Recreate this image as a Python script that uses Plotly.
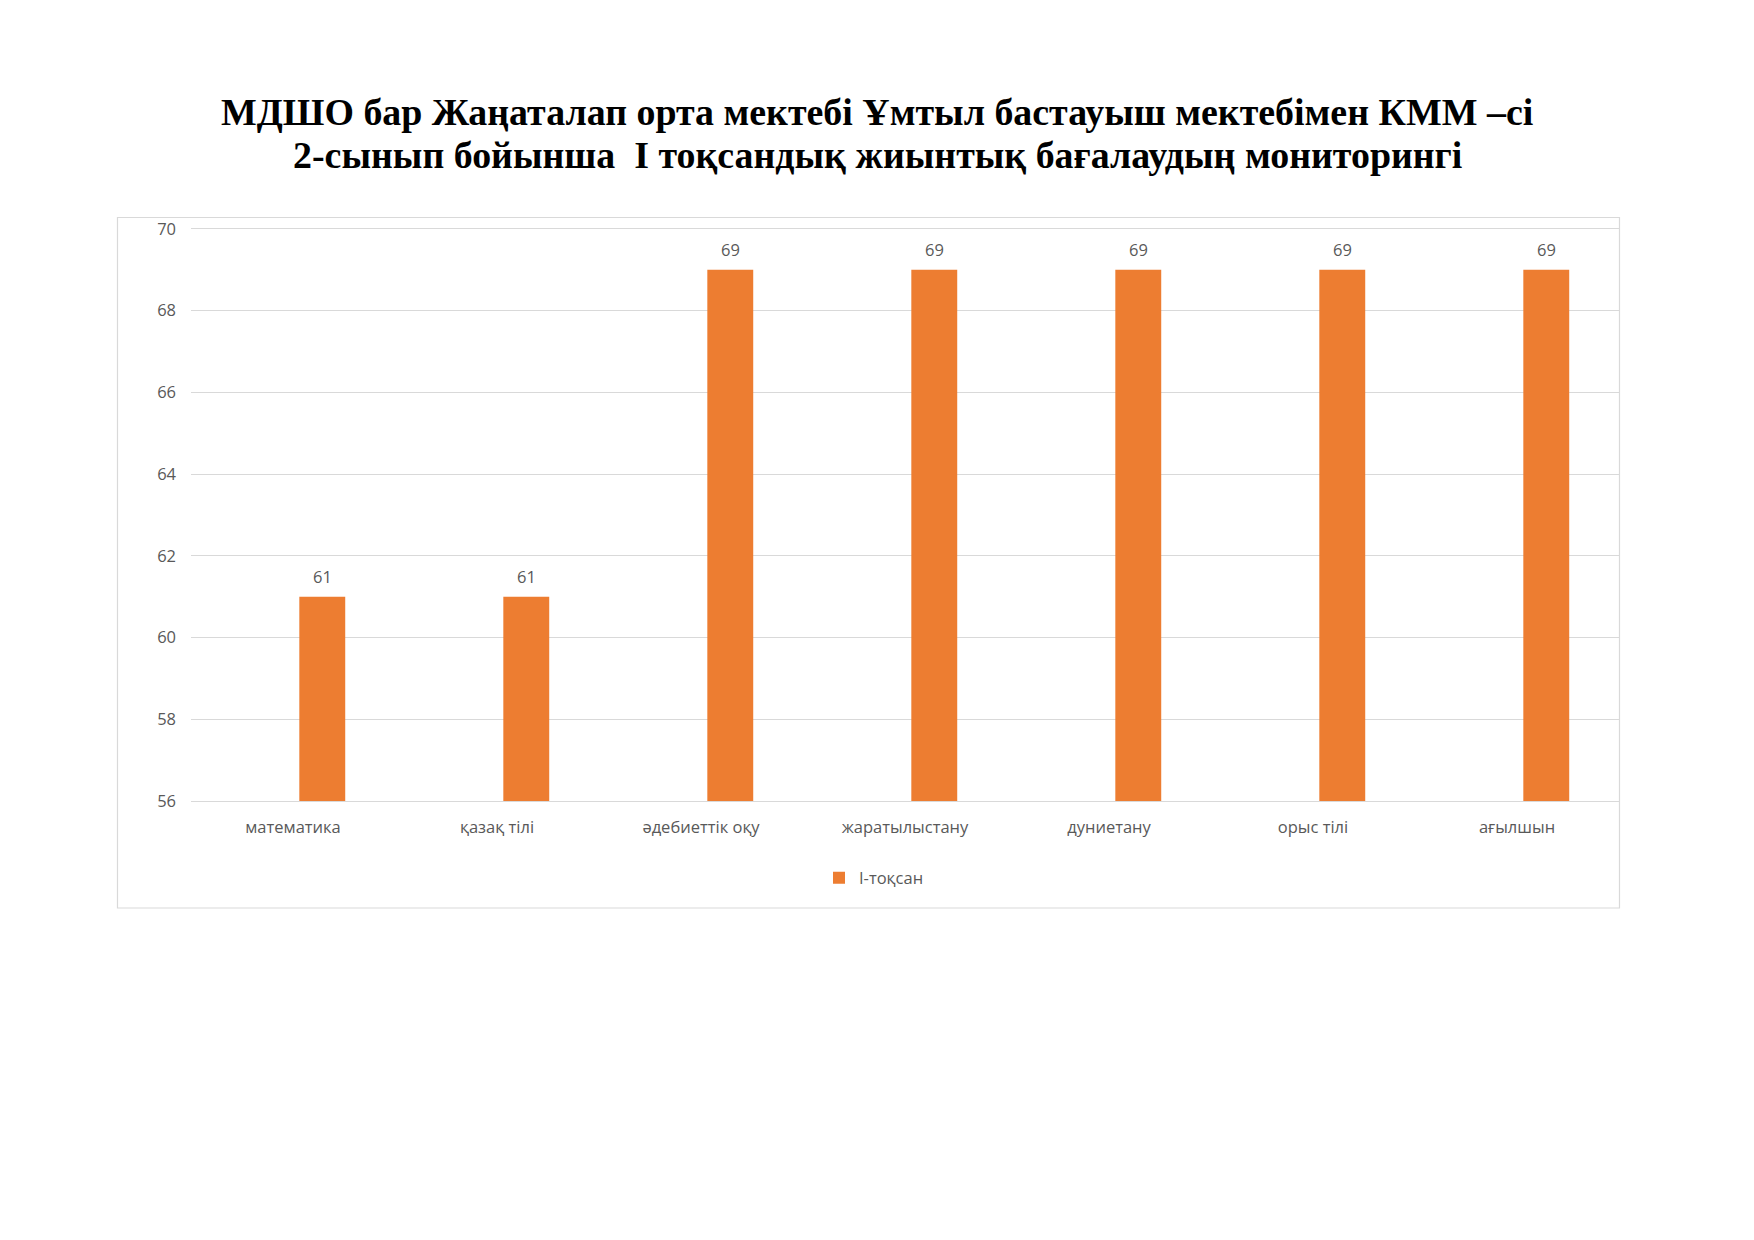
import plotly.graph_objects as go

title_line1 = "МДШО бар Жаңаталап орта мектебі Ұмтыл бастауыш мектебімен КММ –сі"
title_line2 = "2-сынып бойынша  I тоқсандық жиынтық бағалаудың мониторингі"
categories = ["математика", "қазақ тілі", "әдебиеттік оқу", "жаратылыстану", "дуниетану", "орыс тілі", "ағылшын"]
values = [61, 61, 69, 69, 69, 69, 69]
series_name = "I-тоқсан"
y_ticks = [56, 58, 60, 62, 64, 66, 68, 70]

W, H = 1754, 1240
L, R, T, B = 191, 135, 229, 439
PW, PH = W - L - R, H - T - B

def px_x(px):
    return (px - L) / PW

def px_y(py):
    return (H - B - py) / PH

ORANGE = "#ED7D31"
GRID = "#D9D9D9"
TXT = "#595959"
FONT = "Open Sans"
FS = 16.5

fig = go.Figure()
fig.add_trace(go.Bar(
    x=categories, y=values, name=series_name,
    marker=dict(color=ORANGE, line=dict(width=0)),
    width=0.225, offset=0.031,
    showlegend=True,
))

for c, v in zip(categories, values):
    fig.add_annotation(x=c, y=v, text=str(v), showarrow=False,
                       xshift=29, yshift=20, yanchor="middle",
                       font=dict(family=FONT, size=FS, color=TXT))

fig.add_annotation(xref="paper", yref="paper", x=px_x(877), y=px_y(112),
                   text="<b>" + title_line1 + "</b>", showarrow=False,
                   xanchor="center", yanchor="middle",
                   font=dict(family="Liberation Serif", size=37.9, color="#000000"))
fig.add_annotation(xref="paper", yref="paper", x=px_x(877), y=px_y(155),
                   text="<b>" + title_line2 + "</b>", showarrow=False,
                   xanchor="center", yanchor="middle",
                   font=dict(family="Liberation Serif", size=37.9, color="#000000"))

fig.add_shape(type="rect", xref="paper", yref="paper",
              x0=px_x(117.5), x1=px_x(1619.5), y0=px_y(908), y1=px_y(217.5),
              line=dict(color=GRID, width=1.2), fillcolor="rgba(0,0,0,0)", layer="below")

fig.update_layout(
    width=W, height=H,
    margin=dict(l=L, r=R, t=T, b=B, pad=0),
    paper_bgcolor="white", plot_bgcolor="white",
    font=dict(family=FONT, size=FS, color=TXT),
    showlegend=True,
    legend=dict(orientation="h", xref="paper", yref="paper",
                x=px_x(819), y=px_y(878), xanchor="left", yanchor="middle",
                font=dict(family=FONT, size=FS, color=TXT),
                itemwidth=30, bgcolor="rgba(0,0,0,0)"),
    xaxis=dict(type="category", showgrid=False, showline=True, mirror=True,
               linecolor=GRID, linewidth=1.2,
               ticks="", tickfont=dict(family=FONT, size=FS, color=TXT),
               ticklabelstandoff=11, fixedrange=True),
    yaxis=dict(range=[56, 70], tickvals=y_ticks, showgrid=True, gridcolor=GRID, gridwidth=1.2,
               zeroline=False, showline=False, ticks="",
               tickfont=dict(family=FONT, size=FS, color=TXT), ticklabelstandoff=14),
)

fig.write_html("out.html")
